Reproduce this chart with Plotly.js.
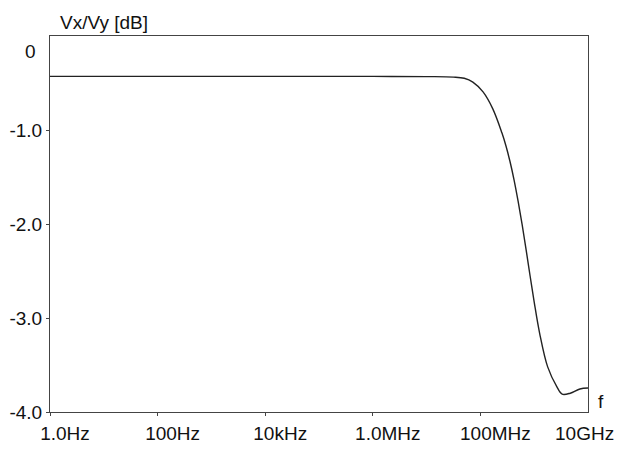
<!DOCTYPE html>
<html>
<head>
<meta charset="utf-8">
<script src="https://cdn.plot.ly/plotly-3.0.1.min.js"></script>
<style>html,body{margin:0;padding:0;background:#fff;}#chart{width:617px;height:449px;}</style>
</head>
<body>
<div id="chart"></div>
<script>
// Frequency (Hz) and Vx/Vy (dB)
var freqHz = [1, 10, 1e3, 1e5, 1e6, 1e7, 3.16e7, 5.01e7, 7.24e7, 1.12e8, 1.70e8, 2.51e8, 2.99e8, 3.55e8, 4.22e8, 5.01e8, 5.96e8, 7.08e8, 8.41e8, 1e9, 1.26e9, 1.78e9, 2.63e9, 3.31e9, 4.68e9, 7.08e9, 1e10];
var vxvyDb = [-0.43, -0.43, -0.43, -0.43, -0.43, -0.432, -0.437, -0.45, -0.49, -0.595, -0.775, -1.03, -1.17, -1.335, -1.53, -1.755, -2.005, -2.275, -2.556, -2.83, -3.16, -3.52, -3.73, -3.81, -3.80, -3.755, -3.745];

var xTickVals = [1, 100, 1e4, 1e6, 1e8];
var xTickText = ['1.0Hz', '100Hz', '10kHz', '1.0MHz', '100MHz'];
var xLastTickText = '10GHz';
var yTickVals = [-4, -3, -2, -1];
var yTickText = ['-4.0', '-3.0', '-2.0', '-1.0'];
var yTopLabel = '0';
var yTitle = 'Vx/Vy [dB]';
var xTitle = 'f';

var fnt = {family: 'Liberation Sans, Arial, sans-serif', size: 19, color: '#111'};

var trace = {
  x: freqHz, y: vxvyDb, type: 'scatter', mode: 'lines',
  line: {color: '#222', width: 1.4, shape: 'spline', smoothing: 1},
  hoverinfo: 'skip'
};

var layout = {
  width: 617, height: 449,
  margin: {l: 50, r: 29, t: 36, b: 37},
  paper_bgcolor: '#fff', plot_bgcolor: '#fff',
  showlegend: false,
  font: fnt,
  xaxis: {
    type: 'log', range: [0, 10],
    tickvals: xTickVals, ticktext: xTickText,
    ticks: 'outside', ticklen: 3, tickcolor: '#444', tickwidth: 1,
    ticklabelshift: 15, ticklabelstandoff: 1,
    showgrid: false, zeroline: false,
    showline: true, linecolor: '#444', linewidth: 1, mirror: true,
    tickfont: fnt, fixedrange: true
  },
  yaxis: {
    range: [-4, 0],
    tickvals: yTickVals, ticktext: yTickText,
    ticks: 'outside', ticklen: 3, tickcolor: '#444', tickwidth: 1,
    showgrid: false, zeroline: false,
    showline: true, linecolor: '#444', linewidth: 1, mirror: true,
    tickfont: fnt, fixedrange: true
  },
  annotations: [
    {text: yTitle, xref: 'paper', yref: 'paper', x: 0.015, y: 1.037, xanchor: 'left', yanchor: 'middle', showarrow: false, font: fnt},
    {text: xTitle, xref: 'paper', yref: 'paper', x: 1.024, y: 0.029, xanchor: 'center', yanchor: 'middle', showarrow: false, font: fnt},
    {text: yTopLabel, xref: 'paper', yref: 'paper', x: -0.037, y: 0.960, xanchor: 'center', yanchor: 'middle', showarrow: false, font: fnt},
    {text: xLastTickText, xref: 'paper', yref: 'paper', x: 0.9926, y: -0.056, xanchor: 'center', yanchor: 'middle', showarrow: false, font: fnt}
  ]
};

Plotly.newPlot('chart', [trace], layout, {staticPlot: true, displayModeBar: false});
</script>
</body>
</html>
